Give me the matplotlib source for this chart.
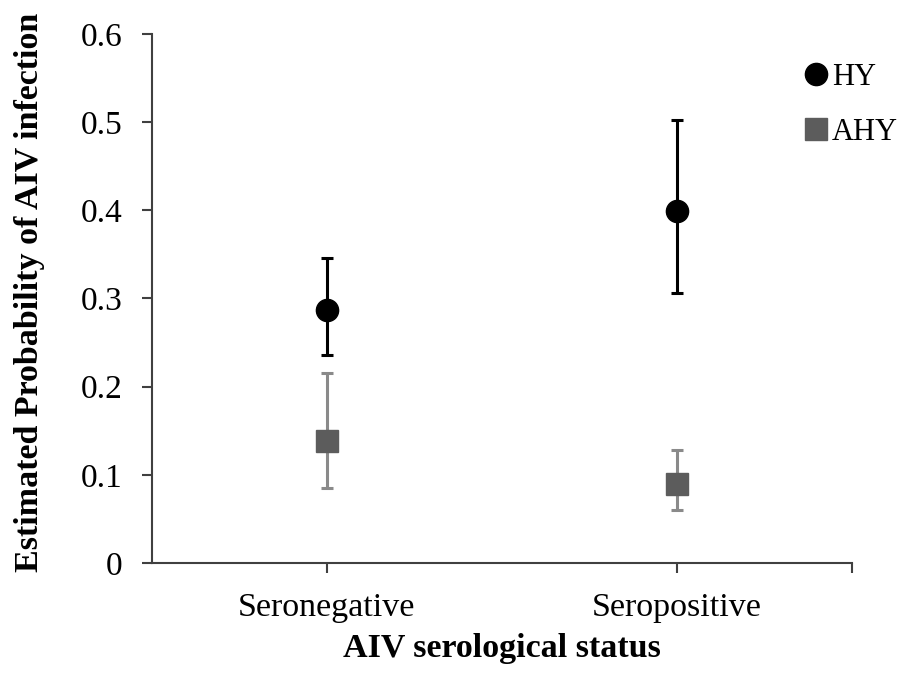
import matplotlib
matplotlib.use("Agg")
import matplotlib.pyplot as plt
from matplotlib.lines import Line2D

categories = ["Seronegative", "Seropositive"]
hy_est = [0.287, 0.399]
hy_low = [0.236, 0.306]
hy_high = [0.346, 0.502]
ahy_est = [0.138, 0.090]
ahy_low = [0.085, 0.060]
ahy_high = [0.215, 0.128]
yticks = [0, 0.1, 0.2, 0.3, 0.4, 0.5, 0.6]
ytick_labels = ["0", "0.1", "0.2", "0.3", "0.4", "0.5", "0.6"]

plt.rcParams['font.family'] = ['Liberation Serif', 'DejaVu Serif']

fig = plt.figure(figsize=(9.08, 6.73), dpi=100)
ax = fig.add_axes([0.1674, 0.1635, 0.7706, 0.786])

x = list(range(len(categories)))
axis_col = "#404040"

hy_err = [[e - l for e, l in zip(hy_est, hy_low)], [h - e for e, h in zip(hy_est, hy_high)]]
ahy_err = [[e - l for e, l in zip(ahy_est, ahy_low)], [h - e for e, h in zip(ahy_est, ahy_high)]]

ax.errorbar(x, ahy_est, yerr=ahy_err, fmt='none', ecolor="#8a8a8a", elinewidth=2.2,
            capsize=4, capthick=2.2, zorder=2)
ax.plot(x, ahy_est, linestyle='none', marker='s', markersize=16, color="#5c5c5c",
        markeredgecolor="#5c5c5c", zorder=3)
ax.errorbar(x, hy_est, yerr=hy_err, fmt='none', ecolor="black", elinewidth=2.2,
            capsize=4, capthick=2.2, zorder=2)
ax.plot(x, hy_est, linestyle='none', marker='o', markersize=16, color="black", zorder=3)

ax.set_xlim(-0.5, 1.5)
ax.set_ylim(0, 0.6)
ax.set_yticks(yticks)
ax.set_yticklabels(ytick_labels)
ax.set_xticks([0, 1, 1.5])
ax.set_xticklabels([categories[0], categories[1], ""])

for s in ["top", "right"]:
    ax.spines[s].set_visible(False)
for s in ["left", "bottom"]:
    ax.spines[s].set_color(axis_col)
    ax.spines[s].set_linewidth(1.5)

ax.tick_params(axis='y', direction='out', length=7, width=1.5, color=axis_col,
               labelsize=24, pad=14)
ax.tick_params(axis='x', direction='out', length=7, width=1.5, color=axis_col,
               labelsize=24.5, pad=14)

ax.set_ylabel("Estimated Probability of AIV infection", fontsize=24.5, fontweight='bold')
ax.set_xlabel("AIV serological status", fontsize=24.5, fontweight='bold')
ax.yaxis.set_label_coords(-0.153, 0.511)
ax.xaxis.set_label_coords(0.5, -0.133)

handles = [
    Line2D([], [], linestyle='none', marker='o', markersize=16, color='black'),
    Line2D([], [], linestyle='none', marker='s', markersize=16, color='#5c5c5c'),
]
ax.legend(handles, ["HY", "AHY"], loc='upper left', bbox_to_anchor=(0.915, 0.968),
          frameon=False, fontsize=22, handlelength=0.75, handletextpad=0.15,
          labelspacing=0.85, borderaxespad=0)

fig.savefig("out.png", dpi=100)
